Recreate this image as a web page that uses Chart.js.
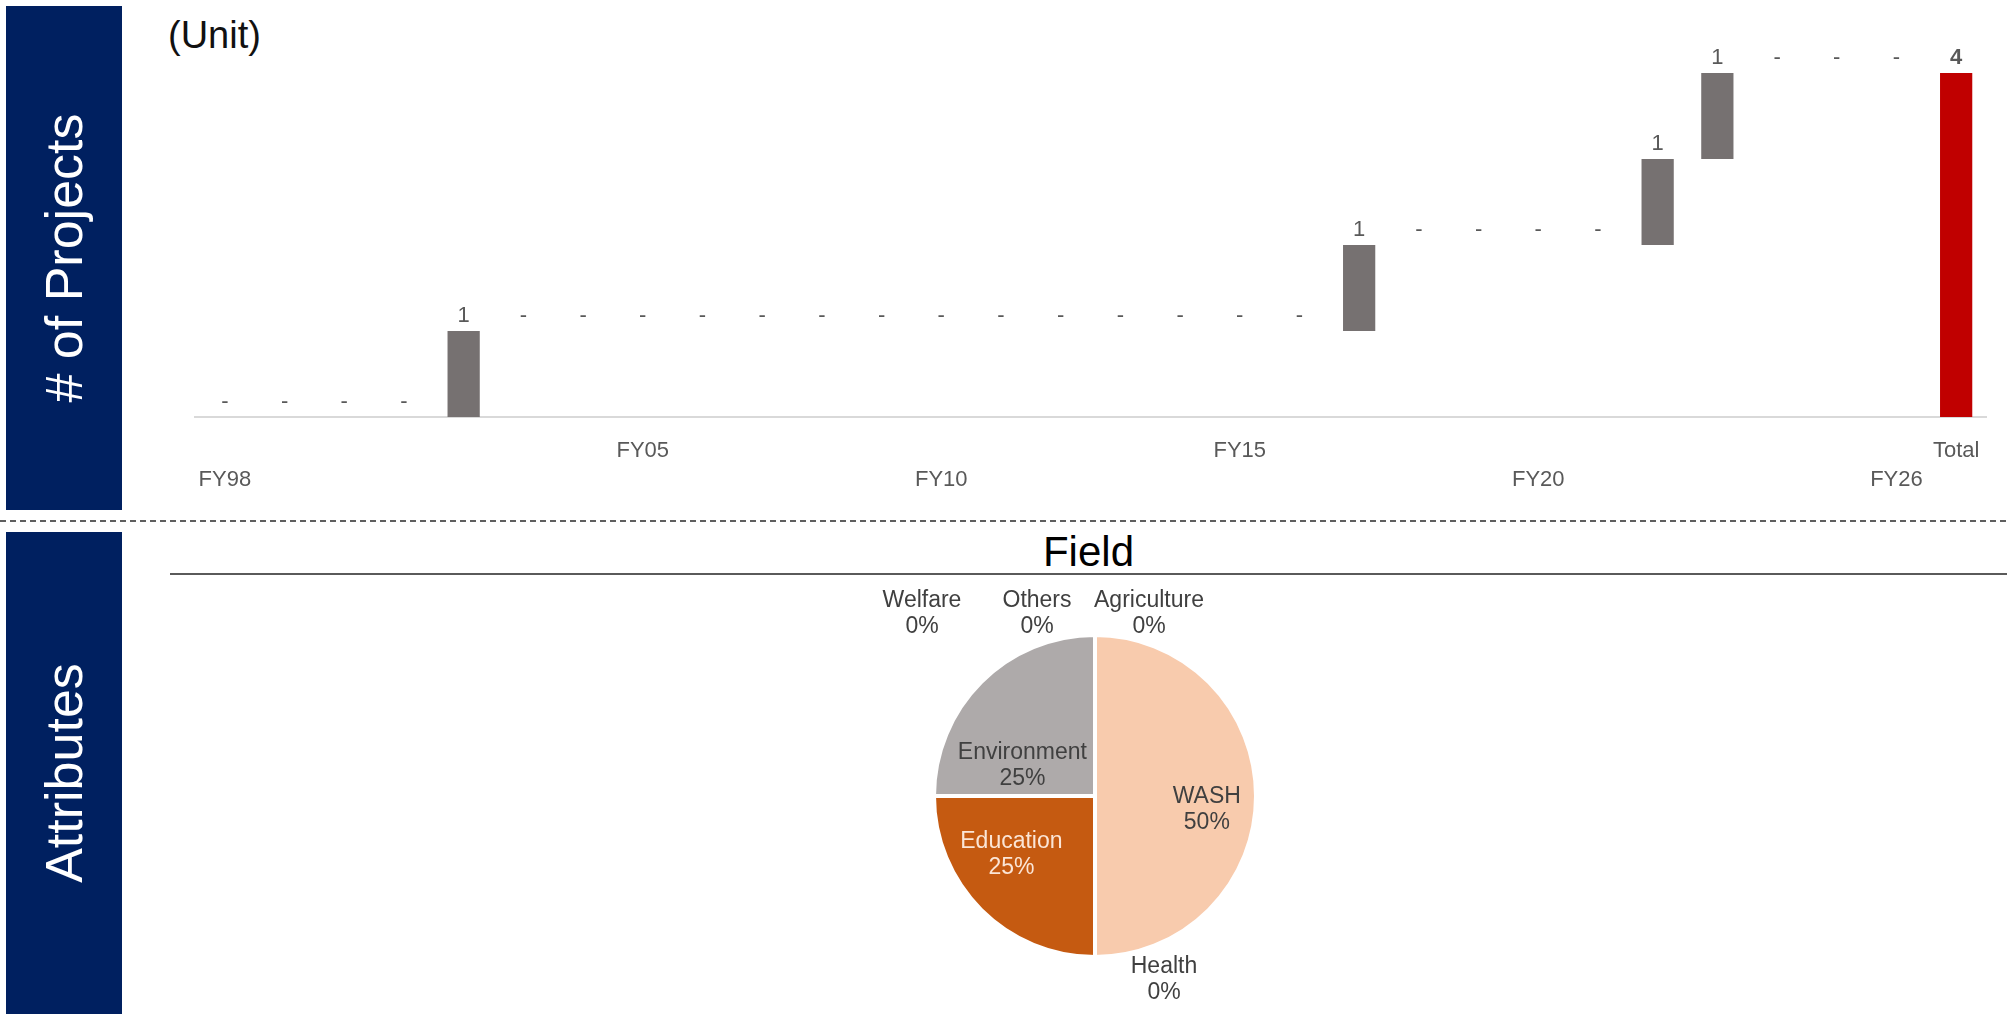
<!DOCTYPE html>
<html>
<head>
<meta charset="utf-8">
<script src="https://cdn.jsdelivr.net/npm/chart.js@4.4.1/dist/chart.umd.min.js"></script>
<style>
  html, body { margin: 0; padding: 0; background: #fff; }
  body {
    width: 2007px; height: 1014px; position: relative; overflow: hidden;
    font-family: "Liberation Sans", Arial, sans-serif;
  }
  .side { position: absolute; left: 6px; width: 116px; background: #002060; }
  .side span {
    position: absolute; left: 50%; top: 50%;
    transform: translate(-50%, -50%) rotate(-90deg);
    color: #fff; font-size: 52px; white-space: nowrap;
  }
  #unit { position: absolute; left: 168px; top: 16px; font-size: 38px; line-height: 38px; color: #111; }
  #sep {
    position: absolute; left: 0; top: 520px; width: 2007px; height: 2px;
    background: repeating-linear-gradient(to right, #5f5f5f 0 6px, transparent 6px 10px);
  }
  #fieldTitle {
    position: absolute; left: 170px; width: 1837px; top: 531px;
    font-size: 42px; line-height: 42px; text-align: center; color: #000;
    border-bottom: 2px solid #5a5a5a; height: 42px;
  }
  canvas { position: absolute; }
</style>
</head>
<body>
<div class="side" style="top:6px;height:504px"><span># of Projects</span></div>
<div class="side" style="top:532px;height:482px"><span>Attributes</span></div>
<div id="unit">(Unit)</div>
<div id="sep"></div>
<div id="fieldTitle">Field</div>
<canvas id="flow" width="2007" height="512" style="left:0;top:0"></canvas>
<canvas id="field" width="520" height="438" style="left:835px;top:577px"></canvas>

<script>
// ---- projects per fiscal year (waterfall) ----
const categories = [
  "FY98", "FY99", "FY00", "FY01", "FY02", "FY03", "FY04", "FY05", "FY06", "FY07",
  "FY08", "FY09", "FY10", "FY11", "FY12", "FY13", "FY14", "FY15", "FY16", "FY17",
  "FY18", "FY19", "FY20", "FY21", "FY22", "FY23", "FY24", "FY25", "FY26", "Total"
];
const increments = [
  0, 0, 0, 0, 1, 0, 0, 0, 0, 0,
  0, 0, 0, 0, 0, 0, 0, 0, 0, 1,
  0, 0, 0, 0, 1, 1, 0, 0, 0
];
const totalValue = 4;
// tick labels that are shown, and which row they sit on
const tickRows = { FY98: "low", FY05: "high", FY10: "low", FY15: "high", FY20: "low", FY26: "low", Total: "high" };

// ---- field breakdown (pie) ----
const fieldNames = ["Agriculture", "WASH", "Health", "Education", "Environment", "Welfare", "Others"];
const fieldCounts = [0, 2, 0, 1, 1, 0, 0];
const fieldColors = ["#A5A5A5", "#F8CBAD", "#F4B183", "#C55A11", "#AEAAAA", "#7F7F7F", "#D9D9D9"];
const fieldTextColors = ["#404040", "#404040", "#404040", "#FBE5D6", "#404040", "#404040", "#404040"];
// label nudges [dx, dy] from the default spot (Excel "best fit" look)
const labelNudge = [[54, 5], [12, 14], [69, -3], [-13, -12], [-2, 40], [-173, 5], [-58, 5]];

const FONT = '"Liberation Sans", Arial, sans-serif';

// floating bars: [start, end] for each year, total from zero
let running = 0;
const flowBars = increments.map(v => {
  const bar = [running, running + v];
  running += v;
  return bar;
});
flowBars.push([0, totalValue]);
const flowColors = categories.map(c => c === "Total" ? "#C00000" : "#767171");

const flowLabels = {
  id: "flowLabels",
  afterDatasetsDraw(chart) {
    const { ctx } = chart;
    const meta = chart.getDatasetMeta(0);
    ctx.save();
    ctx.textAlign = "center";
    ctx.textBaseline = "alphabetic";
    ctx.fillStyle = "#595959";
    meta.data.forEach((bar, i) => {
      const isTotal = categories[i] === "Total";
      const v = isTotal ? totalValue : increments[i];
      ctx.font = (isTotal ? "bold " : "") + "22px " + FONT;
      ctx.fillText(v === 0 ? "-" : String(v), bar.x, bar.y - 9);
    });
    ctx.restore();
  }
};

new Chart(document.getElementById("flow"), {
  type: "bar",
  data: {
    labels: categories,
    datasets: [{
      data: flowBars,
      backgroundColor: flowColors,
      borderWidth: 0,
      categoryPercentage: 1,
      barPercentage: 0.54
    }]
  },
  options: {
    responsive: false,
    animation: false,
    layout: { padding: { left: 195, right: 21, top: 73, bottom: 0 } },
    plugins: { legend: { display: false }, tooltip: { enabled: false } },
    scales: {
      x: {
        grid: { display: false, drawTicks: false },
        border: { color: "#D9D9D9", width: 2 },
        ticks: {
          autoSkip: false,
          maxRotation: 0,
          padding: 19,
          color: "#595959",
          font: { family: FONT, size: 22, lineHeight: "29px" },
          callback: (val, i) => {
            const c = categories[i];
            const row = tickRows[c];
            if (!row) return "";
            return row === "low" ? ["", c] : c;
          }
        },
        afterFit: scale => { scale.height = 95; }
      },
      y: { display: false, min: 0, max: 4 }
    }
  },
  plugins: [flowLabels]
});

// ---- pie ----
const fieldTotal = fieldCounts.reduce((a, b) => a + b, 0);

const pieLabels = {
  id: "pieLabels",
  afterDatasetsDraw(chart) {
    const { ctx } = chart;
    const meta = chart.getDatasetMeta(0);
    ctx.save();
    ctx.font = "23px " + FONT;
    ctx.textAlign = "center";
    ctx.textBaseline = "middle";
    meta.data.forEach((arc, i) => {
      const mid = (arc.startAngle + arc.endAngle) / 2;
      const r = fieldCounts[i] === 0 ? arc.outerRadius + 26 : arc.outerRadius * 0.62;
      const x = arc.x + Math.cos(mid) * r + labelNudge[i][0];
      const y = arc.y + Math.sin(mid) * r + labelNudge[i][1];
      const pct = Math.round(fieldCounts[i] / fieldTotal * 100) + "%";
      ctx.fillStyle = fieldTextColors[i];
      ctx.fillText(fieldNames[i], x, y - 13);
      ctx.fillText(pct, x, y + 13);
    });
    ctx.restore();
  }
};

new Chart(document.getElementById("field"), {
  type: "pie",
  data: {
    labels: fieldNames,
    datasets: [{
      data: fieldCounts,
      backgroundColor: fieldColors,
      borderColor: "#FFFFFF",
      borderWidth: 4,
      radius: 161
    }]
  },
  options: {
    responsive: false,
    animation: false,
    layout: { padding: 0 },
    plugins: { legend: { display: false }, tooltip: { enabled: false } }
  },
  plugins: [pieLabels]
});
</script>
</body>
</html>
